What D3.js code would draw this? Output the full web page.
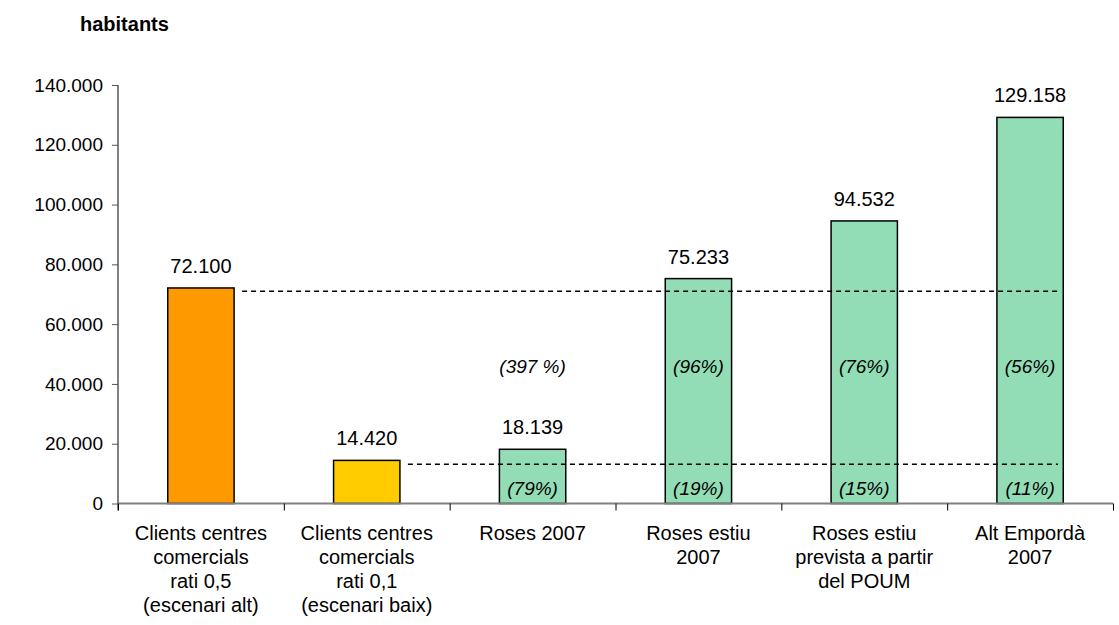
<!DOCTYPE html>
<html>
<head>
<meta charset="utf-8">
<script src="https://cdn.jsdelivr.net/npm/d3@7"></script>
<style>
  body { margin: 0; background: #fff; }
  svg { font-family: "Liberation Sans", Arial, sans-serif; }
</style>
</head>
<body>
<svg width="1119" height="625"></svg>
<script>
const categories = [
  "Clients centres|comercials|rati 0,5|(escenari alt)",
  "Clients centres|comercials|rati 0,1|(escenari baix)",
  "Roses 2007",
  "Roses estiu|2007",
  "Roses estiu|prevista a partir|del POUM",
  "Alt Empordà|2007"
];
const values = [72100, 14420, 18139, 75233, 94532, 129158];
const barColors = ["#FF9900", "#FFCC00", "#92DDB6", "#92DDB6", "#92DDB6", "#92DDB6"];
const yTicks = [0, 20000, 40000, 60000, 80000, 100000, 120000, 140000];
// reference lines (dashed), drawn from the end of the first / second bar
const refLines = [{ from: 0, value: 71000 }, { from: 1, value: 13100 }];
// percentages relative to the high and low scenario
const pctHigh = [null, null, "(397 %)", "(96%)", "(76%)", "(56%)"];
const pctLow = [null, null, "(79%)", "(19%)", "(15%)", "(11%)"];

const svg = d3.select("svg");
const plotLeft = 118, plotRight = 1113, plotTop = 85, plotBottom = 503.5;

const fmt = d3.formatLocale({ decimal: ",", thousands: ".", grouping: [3], currency: ["", "€"] }).format(",d");

const x = d3.scaleBand()
  .domain(d3.range(categories.length))
  .range([plotLeft, plotRight])
  .paddingInner(0.6)
  .paddingOuter(0.3);

const xEdge = d3.scaleLinear().domain([0, categories.length]).range([plotLeft, plotRight]);

const y = d3.scaleLinear().domain([0, 140000]).range([plotBottom, plotTop]);

// title
svg.append("text")
  .attr("x", 80).attr("y", 31)
  .attr("font-size", 20).attr("font-weight", "bold")
  .text("habitants");

// y axis
const yAxis = svg.append("g")
  .attr("transform", "translate(" + plotLeft + ",0)")
  .call(d3.axisLeft(y).tickValues(yTicks).tickSize(6).tickPadding(9).tickFormat(fmt));
yAxis.select(".domain").attr("stroke", "#000").attr("d", "M0," + plotTop + "V" + (plotBottom + 7));
yAxis.selectAll(".tick line").attr("stroke", "#555");
yAxis.selectAll(".tick text")
  .attr("font-size", 19)
  .attr("fill", "#000")
  .attr("font-family", "Liberation Sans, Arial, sans-serif");

// bars
svg.selectAll("rect.bar")
  .data(values)
  .join("rect")
  .attr("class", "bar")
  .attr("x", (d, i) => x(i))
  .attr("y", d => y(d))
  .attr("width", x.bandwidth())
  .attr("height", d => y(0) - y(d))
  .attr("fill", (d, i) => barColors[i])
  .attr("stroke", "#000")
  .attr("stroke-width", 1.5);

// x axis
const xAxis = svg.append("g")
  .attr("transform", "translate(0," + plotBottom + ")")
  .call(d3.axisBottom(xEdge).tickValues(d3.range(categories.length + 1)).tickSize(7).tickFormat(""));
xAxis.select(".domain").attr("stroke", "#808080").attr("stroke-width", 2).attr("d", "M" + plotLeft + ",0H" + plotRight);
xAxis.selectAll(".tick line").attr("stroke", "#000");

// dashed reference lines
svg.selectAll("line.ref")
  .data(refLines)
  .join("line")
  .attr("class", "ref")
  .attr("x1", d => x(d.from) + x.bandwidth() + 8)
  .attr("x2", 1058)
  .attr("y1", d => y(d.value))
  .attr("y2", d => y(d.value))
  .attr("stroke", "#000")
  .attr("stroke-width", 1.5)
  .attr("stroke-dasharray", "5,4");

// value labels
svg.selectAll("text.val")
  .data(values)
  .join("text")
  .attr("class", "val")
  .attr("x", (d, i) => x(i) + x.bandwidth() / 2)
  .attr("y", d => y(d) - 15)
  .attr("text-anchor", "middle")
  .attr("font-size", 20)
  .text(d => fmt(d));

// percentage labels
const pctRows = [{ labels: pctHigh, yPos: 373 }, { labels: pctLow, yPos: 495 }];
pctRows.forEach(row => {
  svg.selectAll(null)
    .data(row.labels.map((t, i) => ({ t, i })).filter(d => d.t))
    .join("text")
    .attr("x", d => x(d.i) + x.bandwidth() / 2)
    .attr("y", row.yPos)
    .attr("text-anchor", "middle")
    .attr("font-size", 19)
    .attr("font-style", "italic")
    .text(d => d.t);
});

// category labels
categories.forEach((c, i) => {
  const t = svg.append("text")
    .attr("text-anchor", "middle")
    .attr("font-size", 20)
    .attr("x", x(i) + x.bandwidth() / 2)
    .attr("y", 540);
  c.split("|").forEach((line, k) => {
    t.append("tspan")
      .attr("x", x(i) + x.bandwidth() / 2)
      .attr("dy", k === 0 ? 0 : 24)
      .text(line);
  });
});
</script>
</body>
</html>
